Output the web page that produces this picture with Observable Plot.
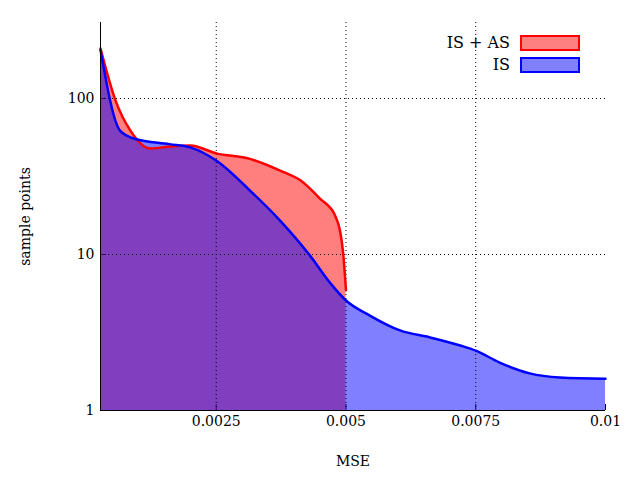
<!DOCTYPE html>
<html><head>
<script src="https://cdn.jsdelivr.net/npm/d3@7"></script>
<script src="https://cdn.jsdelivr.net/npm/@observablehq/plot@0.6"></script>
<style>
body{margin:0;background:#fff;font-family:"DejaVu Serif",serif}
#wrap{position:relative;width:640px;height:480px}
.leg{position:absolute;right:60px;font-size:16px;display:flex;align-items:center;gap:10px}
.sw{width:56px;height:12px;border:2px solid}
</style>
</head><body>
<div id="wrap"></div>
<script>
// MSE values and sample point counts
const isMse = [0.00027,0.00065,0.00094,0.0016,0.0020,0.0025,0.00315,0.00373,0.00431,0.00469,0.005,0.00546,0.00604,0.00662,0.0072,0.0075,0.00796,0.00854,0.00912,0.01]
const isPts = [205,62,55,51,48.6,40,25.7,16.5,9.8,6.6,5.07,4.06,3.26,2.94,2.61,2.42,2.03,1.73,1.63,1.6]
const asMse = [0.00027,0.00056,0.00085,0.00123,0.00162,0.002,0.0025,0.00315,0.00373,0.00412,0.0045,0.00479,0.00494,0.005]
const asPts = [209,97,62,47.8,49.3,50,44.5,41,34.5,29.9,22.8,17.8,10.6,5.9]

const is = isMse.map((x,i) => ({x, y: isPts[i]}))
const as = asMse.map((x,i) => ({x, y: asPts[i]}))

let chart = Plot.plot({
  width: 640, height: 480,
  marginLeft: 100, marginRight: 35, marginTop: 22, marginBottom: 70,
  style: {fontFamily: "DejaVu Serif, serif", fontSize: "14px", color: "#000"},
  x: {domain: [0.00027, 0.01], ticks: [0.0025,0.005,0.0075,0.01], tickFormat: d => String(+d.toFixed(4)), label: "MSE", labelAnchor: "center", labelArrow: "none", labelOffset: 55, tickSize: -6, tickPadding: 12},
  y: {type: "log", domain: [1, 307], ticks: [1,10,100], tickFormat: d => String(d), label: "sample points", labelAnchor: "center", labelArrow: "none", labelOffset: 80, tickSize: -6, tickPadding: 12},
  marks: [
    Plot.areaY(as, {x: "x", y1: 1, y2: "y", fill: "red", fillOpacity: 0.5, curve: "monotone-x"}),
    Plot.areaY(is, {x: "x", y1: 1, y2: "y", fill: "blue", fillOpacity: 0.5, curve: "monotone-x"}),
    Plot.gridX([0.0025,0.005,0.0075], {stroke: "#000", strokeOpacity: 1, strokeDasharray: "1,3"}),
    Plot.gridY([10,100], {stroke: "#000", strokeOpacity: 1, strokeDasharray: "1,3"}),
    Plot.lineY(as, {x: "x", y: "y", stroke: "red", strokeWidth: 2.5, curve: "monotone-x"}),
    Plot.lineY(is, {x: "x", y: "y", stroke: "blue", strokeWidth: 2.5, curve: "monotone-x"}),
    Plot.ruleX([0.00027]),
    Plot.ruleY([1])
  ]
})
d3.select('#wrap').append(() => chart)
d3.select('#wrap').append('div').attr('class','leg').style('top','33px')
  .html('<span>IS + AS</span><span class="sw" style="border-color:red;background:#ff8080"></span>')
d3.select('#wrap').append('div').attr('class','leg').style('top','55px')
  .html('<span>IS</span><span class="sw" style="border-color:blue;background:#8080ff"></span>')
</script>
</body></html>
